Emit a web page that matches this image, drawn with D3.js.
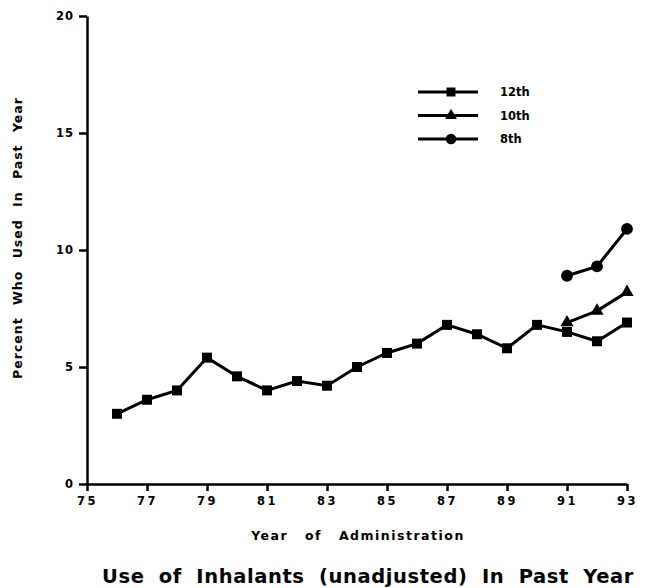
<!DOCTYPE html>
<html lang="en">
<head>
<meta charset="UTF-8">
<title>Use of Inhalants</title>
<script src="https://d3js.org/d3.v7.min.js"></script>
<style>
    body { margin: 0; background: #fff; }
    text { font-family: "DejaVu Sans", "Liberation Sans", Arial, sans-serif; font-weight: bold; fill: #000; }
    .tick text { font-size: 11.5px; letter-spacing: 2.5px; }
    .axis path, .axis line { stroke: #000; stroke-width: 2.5; }
</style>
</head>
<body>
<div id="chart"></div>
<script>
    // data
    var years12 = [76, 77, 78, 79, 80, 81, 82, 83, 84, 85, 86, 87, 88, 89, 90, 91, 92, 93];
    var grade12 = [3.0, 3.6, 4.0, 5.4, 4.6, 4.0, 4.4, 4.2, 5.0, 5.6, 6.0, 6.8, 6.4, 5.8, 6.8, 6.5, 6.1, 6.9];
    var years10 = [91, 92, 93];
    var grade10 = [6.9, 7.4, 8.2];
    var years8 = [91, 92, 93];
    var grade8 = [8.9, 9.3, 10.9];
    var xTicks = [75, 77, 79, 81, 83, 85, 87, 89, 91, 93];
    var yTicks = [0, 5, 10, 15, 20];
    var legendLabels = ["12th", "10th", "8th"];

    var W = 654, H = 588;
    var svg = d3.select("#chart").append("svg")
        .attr("width", W).attr("height", H);

    var x = d3.scaleLinear().domain([75, 93]).range([87, 627]);
    var y = d3.scaleLinear().domain([0, 20]).range([484, 16]);

    // axes
    svg.append("g").attr("class", "axis")
        .attr("transform", "translate(0," + y(0) + ")")
        .call(d3.axisBottom(x).tickValues(xTicks).tickSize(7).tickSizeOuter(0).tickPadding(6));
    var yAxis = svg.append("g").attr("class", "axis")
        .attr("transform", "translate(" + x(75) + ",0)")
        .call(d3.axisLeft(y).tickValues(yTicks).tickSize(8).tickSizeOuter(0).tickPadding(5));
    yAxis.selectAll(".tick text").style("letter-spacing", "1px");

    // axis titles
    svg.append("text")
        .attr("transform", "translate(22,238) rotate(-90)")
        .attr("text-anchor", "middle")
        .style("font-size", "12.5px")
        .style("letter-spacing", "1px")
        .style("word-spacing", "7px")
        .text("Percent Who Used In Past Year");

    svg.append("text")
        .attr("x", 358).attr("y", 540)
        .attr("text-anchor", "middle")
        .style("font-size", "12.5px")
        .style("letter-spacing", "1.5px")
        .style("word-spacing", "11px")
        .text("Year of Administration");

    svg.append("text")
        .attr("x", 368).attr("y", 583)
        .attr("text-anchor", "middle")
        .style("font-size", "19.5px")
        .style("letter-spacing", "0.6px")
        .style("word-spacing", "7px")
        .text("Use of Inhalants (unadjusted) In Past Year");

    var line = d3.line()
        .x(function (d) { return x(d[0]); })
        .y(function (d) { return y(d[1]); });

    var series = [
        {years: years12, vals: grade12, shape: d3.symbolSquare, size: 100},
        {years: years10, vals: grade10, shape: d3.symbolTriangle, size: 75},
        {years: years8, vals: grade8, shape: d3.symbolCircle, size: 110}
    ];

    series.forEach(function (s) {
        var pts = s.years.map(function (yr, i) { return [yr, s.vals[i]]; });
        svg.append("path")
            .datum(pts)
            .attr("fill", "none")
            .attr("stroke", "#000")
            .attr("stroke-width", 3)
            .attr("d", line);
        svg.selectAll(null)
            .data(pts)
            .enter().append("path")
            .attr("d", d3.symbol().type(s.shape).size(s.size))
            .attr("transform", function (d) { return "translate(" + x(d[0]) + "," + y(d[1]) + ")"; })
            .attr("fill", "#000");
    });

    // legend
    var legend = svg.append("g").attr("transform", "translate(418,92)");
    series.forEach(function (s, i) {
        var g = legend.append("g").attr("transform", "translate(0," + (i * 23.5) + ")");
        g.append("line").attr("x1", 0).attr("x2", 60).attr("y1", 0).attr("y2", 0)
            .attr("stroke", "#000").attr("stroke-width", 3);
        g.append("path").attr("d", d3.symbol().type(s.shape).size(s.size * 0.8))
            .attr("transform", "translate(33,0)").attr("fill", "#000");
        g.append("text").attr("x", 82).attr("y", 4)
            .style("font-size", "11.5px")
            .text(legendLabels[i]);
    });
</script>
</body>
</html>
